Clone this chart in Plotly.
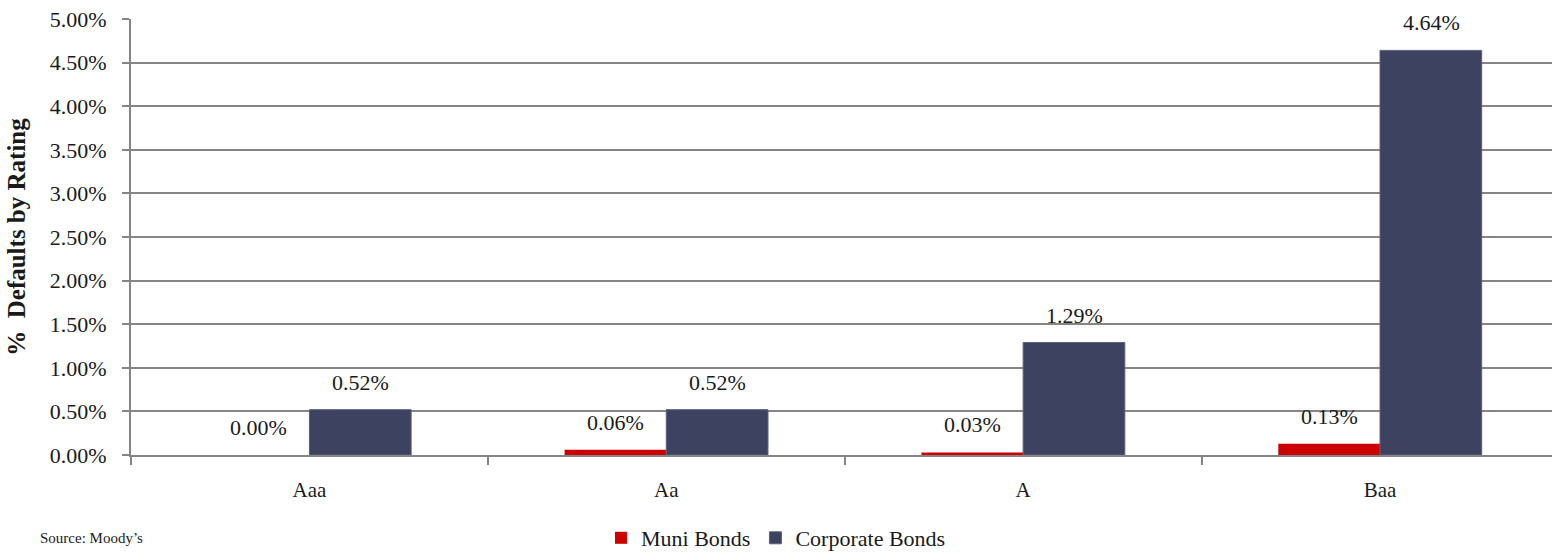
import plotly.graph_objects as go

ratings = ["Aaa", "Aa", "A", "Baa"]
muni_defaults = [0.00, 0.06, 0.03, 0.13]
corporate_defaults = [0.52, 0.52, 1.29, 4.64]
y_ticks = [0, 0.5, 1, 1.5, 2, 2.5, 3, 3.5, 4, 4.5, 5]
y_tick_labels = ["%.2f%%" % v for v in y_ticks]

FONT = "Liberation Serif, Times New Roman, serif"
TEXT = "#1a1a1a"
GRID = "#858585"
MUNI_COLOR = "#CC0000"
CORP_COLOR = "#3D4260"

LEFT, RIGHT, TOP, BOTTOM = 131, 0, 19, 97
W, H = 1552, 552
plot_w = W - LEFT - RIGHT
plot_h = H - TOP - BOTTOM

fig = go.Figure()
fig.add_trace(go.Bar(
    name="Muni Bonds", x=ratings, y=muni_defaults,
    marker=dict(color=MUNI_COLOR, line=dict(width=0)),
))
fig.add_trace(go.Bar(
    name="Corporate Bonds", x=ratings, y=corporate_defaults,
    marker=dict(color=CORP_COLOR, line=dict(color="#5C6180", width=1)),
))

# value labels above each bar
annotations = []
for series, shift in ((muni_defaults, -51), (corporate_defaults, 51)):
    for cat, val in zip(ratings, series):
        annotations.append(dict(
            x=cat, y=val, xref="x", yref="y", xshift=shift, yshift=13,
            text="%.2f%%" % val, showarrow=False, yanchor="bottom",
            font=dict(family=FONT, size=22, color=TEXT),
        ))

# source note, positioned in pixels relative to the plot area
annotations.append(dict(
    x=(38 - LEFT) / plot_w, y=(TOP + plot_h - 538) / plot_h,
    xref="paper", yref="paper", text="Source: Moody’s",
    showarrow=False, xanchor="left", yanchor="middle",
    font=dict(family=FONT, size=15, color=TEXT),
))

fig.update_layout(
    width=W, height=H,
    margin=dict(l=LEFT, r=RIGHT, t=TOP, b=BOTTOM, autoexpand=False),
    paper_bgcolor="white", plot_bgcolor="white",
    barmode="group", bargap=0.43, bargroupgap=0,
    font=dict(family=FONT, size=20, color=TEXT),
    showlegend=True,
    legend=dict(
        orientation="h", x=(776 - LEFT) / plot_w, y=(TOP + plot_h - 538) / plot_h,
        xanchor="center", yanchor="middle",
        font=dict(family=FONT, size=22, color=TEXT),
        itemwidth=30, traceorder="normal",
    ),
    annotations=annotations,
)

fig.update_xaxes(
    type="category", range=[-0.5, 3.482],
    showgrid=False, showline=True, linecolor=GRID, linewidth=2,
    ticks="outside", tickson="boundaries", ticklen=8, tickcolor=GRID, tickwidth=1.5,
    ticklabelstandoff=15,
    tickfont=dict(family=FONT, size=21, color=TEXT),
)
fig.update_yaxes(
    range=[0, 5], tickvals=y_ticks, ticktext=y_tick_labels,
    showgrid=True, gridcolor=GRID, gridwidth=1.5,
    showline=True, linecolor=GRID, linewidth=2,
    ticks="outside", ticklen=7, tickcolor=GRID, tickwidth=1.5,
    ticklabelstandoff=11,
    tickfont=dict(family=FONT, size=22, color=TEXT),
    zeroline=False,
    title=dict(text="<b>%  Defaults by Rating</b>",
               font=dict(family=FONT, size=25, color=TEXT), standoff=17),
)

fig.write_html("out.html")
